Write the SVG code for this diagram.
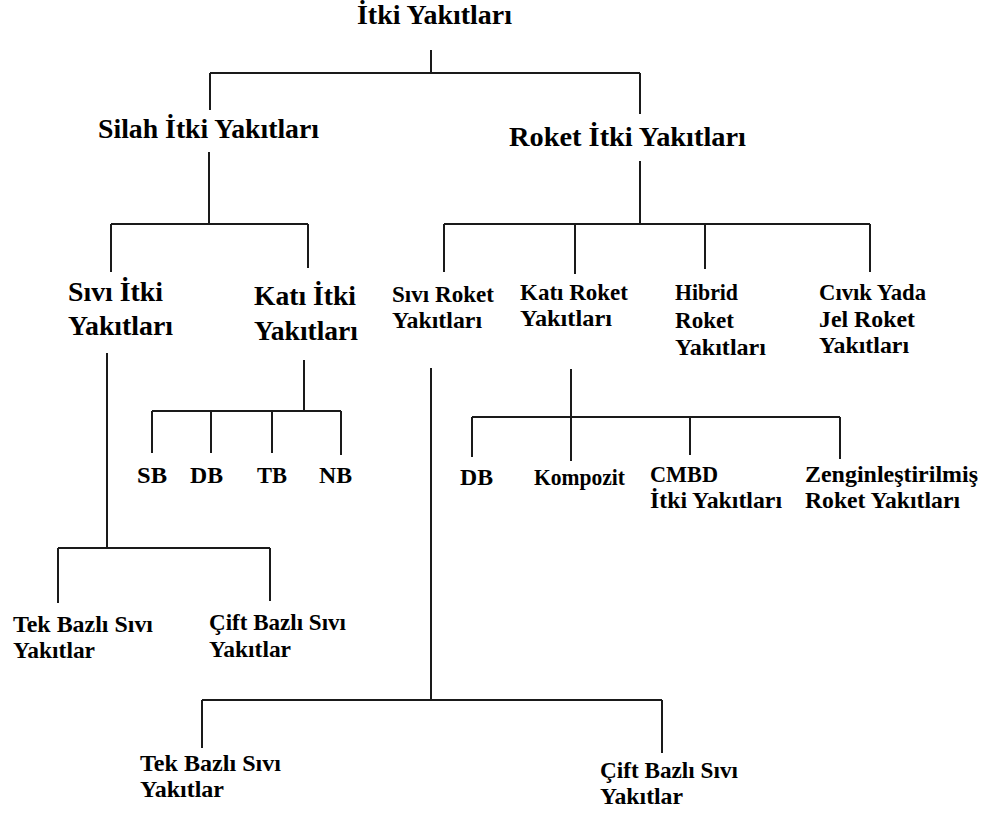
<svg xmlns="http://www.w3.org/2000/svg" width="986" height="816" viewBox="0 0 986 816">
<style>
text{font-family:"Liberation Serif","Times New Roman",serif;font-weight:bold;fill:#000}
.L{font-size:27px}
.M{font-size:23px}
.c path{stroke:#1a1a1a;stroke-width:2;fill:none}
</style>
<rect width="986" height="816" fill="#fff"/>
<g class="c" id="connectors">
<path d="M431,50V73M210,73H640M210,73V110M640,73V114"/>
<path d="M209,152V224M111,224H308M111,224V272M308,224V268"/>
<path d="M640,161V224M444,224H870M444,224V272M575,224V274M705,224V269M870,224V272"/>
<path d="M107,353V548M58,548H270M58,548V603M270,548V601"/>
<path d="M304,360V411M152,411H341M152,411V453M211,411V453M272,411V453M341,411V455"/>
<path d="M431,368V700M202,700H662M202,700V748M662,700V753"/>
<path d="M571,369V461M472,417H840M472,417V457M690,417V455M840,417V459"/>
</g>
<g id="n-root"><text class="L" x="357" y="24" textLength="155" lengthAdjust="spacingAndGlyphs">İtki Yakıtları</text></g>
<g id="n-silah"><text class="L" x="98" y="138" textLength="221" lengthAdjust="spacingAndGlyphs">Silah İtki Yakıtları</text></g>
<g id="n-roket"><text class="L" x="509" y="146" textLength="237" lengthAdjust="spacingAndGlyphs">Roket İtki Yakıtları</text></g>
<g id="n-sivi-itki"><text class="L" x="68" y="301" textLength="95" lengthAdjust="spacingAndGlyphs">Sıvı İtki</text><text class="L" x="68" y="335" textLength="105" lengthAdjust="spacingAndGlyphs">Yakıtları</text></g>
<g id="n-kati-itki"><text class="L" x="254" y="305" textLength="102" lengthAdjust="spacingAndGlyphs">Katı İtki</text><text class="L" x="254" y="340" textLength="104" lengthAdjust="spacingAndGlyphs">Yakıtları</text></g>
<g id="n-sivi-roket"><text class="M" x="392" y="302" textLength="102" lengthAdjust="spacingAndGlyphs">Sıvı Roket</text><text class="M" x="392" y="328" textLength="90" lengthAdjust="spacingAndGlyphs">Yakıtları</text></g>
<g id="n-kati-roket"><text class="M" x="520" y="300" textLength="108" lengthAdjust="spacingAndGlyphs">Katı Roket</text><text class="M" x="520" y="326" textLength="92" lengthAdjust="spacingAndGlyphs">Yakıtları</text></g>
<g id="n-hibrid"><text class="M" x="675" y="300" textLength="63" lengthAdjust="spacingAndGlyphs">Hibrid</text><text class="M" x="675" y="328" textLength="59" lengthAdjust="spacingAndGlyphs">Roket</text><text class="M" x="675" y="355" textLength="91" lengthAdjust="spacingAndGlyphs">Yakıtları</text></g>
<g id="n-civik"><text class="M" x="819" y="300" textLength="107" lengthAdjust="spacingAndGlyphs">Cıvık Yada</text><text class="M" x="819" y="327" textLength="96" lengthAdjust="spacingAndGlyphs">Jel Roket</text><text class="M" x="819" y="353" textLength="90" lengthAdjust="spacingAndGlyphs">Yakıtları</text></g>
<g id="n-sb"><text class="M" x="137" y="483" textLength="30" lengthAdjust="spacingAndGlyphs">SB</text></g>
<g id="n-db1"><text class="M" x="190" y="483" textLength="33" lengthAdjust="spacingAndGlyphs">DB</text></g>
<g id="n-tb"><text class="M" x="257" y="483" textLength="30" lengthAdjust="spacingAndGlyphs">TB</text></g>
<g id="n-nb"><text class="M" x="319" y="483" textLength="33" lengthAdjust="spacingAndGlyphs">NB</text></g>
<g id="n-db2"><text class="M" x="460" y="485" textLength="33" lengthAdjust="spacingAndGlyphs">DB</text></g>
<g id="n-kompozit"><text class="M" x="534" y="485" textLength="91" lengthAdjust="spacingAndGlyphs">Kompozit</text></g>
<g id="n-cmbd"><text class="M" x="650" y="482" textLength="68" lengthAdjust="spacingAndGlyphs">CMBD</text><text class="M" x="650" y="508" textLength="132" lengthAdjust="spacingAndGlyphs">İtki Yakıtları</text></g>
<g id="n-zengin"><text class="M" x="805" y="482" textLength="173" lengthAdjust="spacingAndGlyphs">Zenginleştirilmiş</text><text class="M" x="805" y="508" textLength="155" lengthAdjust="spacingAndGlyphs">Roket Yakıtları</text></g>
<g id="n-tek1"><text class="M" x="13" y="632" textLength="140" lengthAdjust="spacingAndGlyphs">Tek Bazlı Sıvı</text><text class="M" x="13" y="658" textLength="82" lengthAdjust="spacingAndGlyphs">Yakıtlar</text></g>
<g id="n-cift1"><text class="M" x="209" y="630" textLength="137" lengthAdjust="spacingAndGlyphs">Çift Bazlı Sıvı</text><text class="M" x="209" y="657" textLength="82" lengthAdjust="spacingAndGlyphs">Yakıtlar</text></g>
<g id="n-tek2"><text class="M" x="140" y="771" textLength="141" lengthAdjust="spacingAndGlyphs">Tek Bazlı Sıvı</text><text class="M" x="140" y="797" textLength="84" lengthAdjust="spacingAndGlyphs">Yakıtlar</text></g>
<g id="n-cift2"><text class="M" x="600" y="778" textLength="138" lengthAdjust="spacingAndGlyphs">Çift Bazlı Sıvı</text><text class="M" x="600" y="804" textLength="83" lengthAdjust="spacingAndGlyphs">Yakıtlar</text></g>
</svg>
